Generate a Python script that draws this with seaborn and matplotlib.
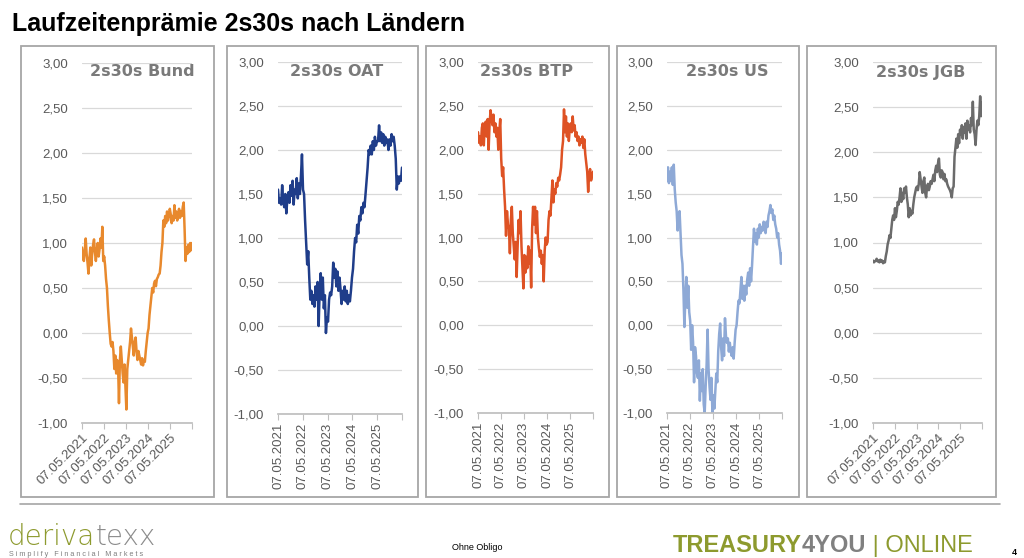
import matplotlib
matplotlib.use("Agg")
import matplotlib.pyplot as plt
from matplotlib.patches import Rectangle
from matplotlib.lines import Line2D
import seaborn as sns
import pandas as pd

sns.set_theme(style="white")
plt.rcParams['font.family'] = ['Liberation Sans', 'DejaVu Sans']

W, H = 1024, 558

# semi-monthly observations, 07.05.2021 - 07.05.2026
dates = pd.date_range("2021-05-07", "2026-05-07", periods=120)
tick_dates = pd.to_datetime(["2021-05-07", "2022-05-07", "2023-05-07", "2024-05-07", "2025-05-07", "2026-05-07"])
tick_labels = ["07.05.2021", "07.05.2022", "07.05.2023", "07.05.2024", "07.05.2025", ""]
y_ticks = [-1.0, -0.5, 0.0, 0.5, 1.0, 1.5, 2.0, 2.5, 3.0]

bund = [0.95, 0.85, 0.80, 0.92, 1.05, 0.88, 0.78, 0.66, 0.82, 0.95, 0.75, 0.88,
        0.98, 1.04, 0.90, 0.80, 0.92, 1.00, 0.85, 0.93, 1.05, 0.95, 1.18, 0.80,
        0.85, 0.75, 0.60, 0.50, 0.30, 0.14, 0.00, -0.12, -0.15, -0.10, -0.20, -0.40,
        -0.25, -0.45, -0.30, -0.35, -0.78, -0.30, -0.15, -0.30, -0.45, -0.55, -0.35, -0.60,
        -0.85, -0.40, -0.30, -0.20, -0.10, 0.05, -0.05, -0.15, -0.25, -0.10, -0.05, -0.20,
        -0.30, -0.20, -0.25, -0.30, -0.35, -0.28, -0.36, -0.30, -0.32, -0.20, -0.10, 0.00,
        0.05, 0.20, 0.30, 0.40, 0.50, 0.45, 0.55, 0.58, 0.52, 0.60, 0.62, 0.65,
        0.66, 0.75, 0.90, 1.00, 1.25, 1.18, 1.30, 1.22, 1.35, 1.25, 1.30, 1.38,
        1.32, 1.22, 1.30, 1.25, 1.42, 1.28, 1.35, 1.25, 1.32, 1.38, 1.28, 1.35,
        1.30, 1.40, 1.45, 1.15, 0.80, 0.95, 0.88, 0.98, 0.90, 1.00, 0.92, 1.00]

oat = [1.55, 1.40, 1.45, 1.38, 1.60, 1.42, 1.35, 1.50, 1.28, 1.45, 1.52, 1.40,
       1.60, 1.48, 1.65, 1.38, 1.55, 1.50, 1.68, 1.45, 1.62, 1.50, 1.70, 1.95,
       1.55, 1.50, 1.20, 0.95, 0.70, 0.85, 0.55, 0.30, 0.40, 0.25, 0.35, 0.22,
       0.45, 0.30, 0.50, 0.00, 0.40, 0.60, 0.30, 0.55, 0.20, 0.35, -0.08, 0.10,
       0.05, 0.30, 0.38, 0.35, 0.45, 0.72, 0.55, 0.65, 0.45, 0.62, 0.40, 0.55,
       0.42, 0.25, 0.40, 0.30, 0.45, 0.28, 0.40, 0.25, 0.35, 0.28, 0.40, 0.55,
       0.65, 0.85, 1.00, 0.95, 1.15, 1.05, 1.25, 1.20, 1.35, 1.28, 1.40, 1.35,
       1.50, 1.65, 1.80, 2.00, 1.95, 2.05, 1.95, 2.10, 2.00, 2.15, 2.05, 2.10,
       2.10, 2.28, 2.10, 2.20, 2.08, 2.18, 2.05, 2.15, 2.08, 2.12, 2.00, 2.12,
       2.05, 2.18, 2.10, 2.15, 2.05, 1.90, 1.55, 1.70, 1.62, 1.70, 1.65, 1.80]

btp = [2.20, 2.08, 2.15, 2.05, 2.25, 2.30, 2.05, 2.28, 2.32, 2.15, 2.35, 2.00,
       2.30, 2.45, 2.35, 2.28, 2.40, 2.20, 2.30, 2.15, 2.25, 2.00, 2.20, 2.35,
       1.90, 1.70, 1.80, 1.55, 1.35, 1.02, 1.30, 1.15, 1.10, 0.82, 1.20, 1.35,
       1.05, 0.90, 0.75, 0.95, 0.55, 0.90, 1.20, 1.05, 1.30, 0.90, 0.65, 0.42,
       0.80, 0.60, 0.78, 0.65, 0.90, 0.70, 0.85, 0.43, 1.10, 1.35, 1.15, 1.35,
       1.05, 1.30, 1.00, 0.88, 0.78, 0.85, 0.70, 0.80, 0.50, 0.85, 1.00, 0.92,
       0.95, 1.20, 1.30, 1.25, 1.45, 1.65, 1.40, 1.55, 1.50, 1.62, 1.58, 1.68,
       1.65, 1.72, 1.80, 2.00, 2.10, 2.46, 2.20, 2.38, 2.15, 2.30, 2.10, 2.25,
       2.30, 2.20, 2.38, 2.22, 2.28, 2.15, 2.20, 2.10, 2.15, 2.05, 2.12, 2.08,
       2.15, 2.02, 2.12, 1.95, 1.85, 1.75, 1.52, 1.72, 1.78, 1.65, 1.70, 1.75]

us = [1.65, 1.80, 1.62, 1.75, 1.65, 1.80, 1.60, 1.83, 1.55, 1.40, 1.30, 1.08,
      1.25, 1.30, 1.05, 0.80, 0.70, 0.40, -0.02, 0.30, 0.55, 0.20, 0.45, 0.15,
      0.05, -0.28, 0.00, -0.20, -0.65, -0.25, -0.35, -0.55, -0.60, -0.40, -0.86, -0.55,
      -0.75, -0.50, -0.90, -1.00, -0.70, -0.45, -0.05, -0.50, -0.70, -0.85, -0.60, -1.00,
      -0.80, -0.95, -0.75, -0.55, -0.65, -0.30, -0.10, 0.02, -0.25, -0.40, -0.15, -0.35,
      0.08, -0.12, -0.20, -0.15, -0.30, -0.20, -0.30, -0.35, -0.25, -0.38, -0.20, -0.05,
      0.00, 0.15, 0.28, 0.25, 0.40, 0.55, 0.30, 0.45, 0.28, 0.45, 0.35, 0.52,
      0.60, 0.45, 0.65, 0.50, 0.68, 0.90, 1.10, 0.95, 1.05, 0.92, 1.10, 1.00,
      1.15, 1.05, 1.12, 1.08, 1.18, 1.10, 1.05, 1.18, 1.12, 1.25, 1.30, 1.37,
      1.28, 1.32, 1.20, 1.25, 1.15, 1.10, 1.00, 1.05, 0.92, 0.85, 0.70, 0.82]

jgb = [0.80, 0.78, 0.79, 0.80, 0.82, 0.79, 0.80, 0.78, 0.81, 0.79, 0.80, 0.77,
       0.79, 0.78, 0.85, 0.90, 0.98, 1.02, 1.08, 1.05, 1.15, 1.25, 1.30, 1.25,
       1.38, 1.28, 1.35, 1.45, 1.42, 1.50, 1.60, 1.45, 1.55, 1.48, 1.60, 1.55,
       1.62, 1.50, 1.42, 1.28, 1.38, 1.30, 1.35, 1.32, 1.42, 1.50, 1.55, 1.60,
       1.62, 1.58, 1.65, 1.78, 1.70, 1.62, 1.55, 1.68, 1.72, 1.55, 1.50, 1.62,
       1.65, 1.58, 1.62, 1.68, 1.65, 1.70, 1.75, 1.68, 1.80, 1.85, 1.78, 1.88,
       1.93, 1.75, 1.72, 1.80, 1.78, 1.70, 1.76, 1.68, 1.70, 1.65, 1.62, 1.60,
       1.58, 1.55, 1.50, 1.60, 1.62, 1.95, 2.05, 2.15, 2.05, 2.20, 2.10, 2.25,
       2.20, 2.30, 2.15, 2.28, 2.22, 2.32, 2.15, 2.35, 2.25, 2.30, 2.22, 2.38,
       2.30, 2.56, 2.25, 2.20, 2.08, 2.25, 2.35, 2.30, 2.40, 2.62, 2.40, 2.55]

# title, series, colour, plot area (px l,t,r,b), frame (px l,t,r,b), label rotation, title centre x
panels = [
    ("2s30s Bund", bund, "#E8892D", (82, 63, 192, 423), (21, 46, 214, 497), 45, 142),
    ("2s30s OAT", oat, "#1F3D8A", (278, 62, 402, 414), (227, 46, 418, 497), 90, 337),
    ("2s30s BTP", btp, "#DE5224", (478, 62, 593, 413), (426, 46, 609, 497), 90, 527),
    ("2s30s US", us, "#8EA9D6", (667, 62, 782, 413), (617, 46, 799, 497), 90, 727),
    ("2s30s JGB", jgb, "#6B6B6B", (873, 62, 982, 423), (807, 46, 996, 497), 45, 921),
]

fig = plt.figure(figsize=(W / 100, H / 100), dpi=100)
fig.patch.set_facecolor("white")

fig.text(12 / W, 1 - 31 / H, "Laufzeitenprämie 2s30s nach Ländern", fontsize=18,
         fontweight="bold", color="black", va="baseline", ha="left")

for title, vals, color, (l, t, r, b), (fl, ft, fr, fb), rot, tx in panels:
    fig.add_artist(Rectangle((fl / W, 1 - fb / H), (fr - fl) / W, (fb - ft) / H,
                             transform=fig.transFigure, fill=False, ec="#A6A6A6", lw=1.3))
    ax = fig.add_axes([l / W, 1 - b / H, (r - l) / W, (b - t) / H])
    df = pd.DataFrame({"date": dates, "value": vals})
    sns.lineplot(data=df, x="date", y="value", color=color, lw=1.8, ax=ax)
    ax.set_facecolor("none")
    ax.set_xlim(tick_dates[0], tick_dates[-1])
    ax.set_ylim(-1, 3)
    ax.set_yticks(y_ticks)
    ax.set_yticklabels([f"{v:.2f}".replace(".", ",") for v in y_ticks])
    ax.set_xticks(tick_dates)
    ax.set_xticklabels(tick_labels)
    ax.grid(axis="y", color="#D9D9D9", lw=0.9)
    ax.grid(axis="x", visible=False)
    ax.set_axisbelow(True)
    for s in ["top", "right", "left"]:
        ax.spines[s].set_visible(False)
    ax.spines["bottom"].set_color("#BFBFBF")
    ax.tick_params(axis="x", length=4, width=0.8, color="#BFBFBF", labelsize=9.5,
                   labelcolor="#595959", pad=2, bottom=True)
    ax.tick_params(axis="y", length=0, labelsize=9.5, labelcolor="#595959", pad=10)
    for lbl in ax.get_xticklabels():
        lbl.set_rotation(rot)
        lbl.set_ha("right" if rot == 45 else "center")
        lbl.set_rotation_mode("anchor" if rot == 45 else "default")
    ax.set_xlabel("")
    ax.set_ylabel("")
    fig.text(tx / W, 1 - 72 / H, title, ha="center", va="center", fontsize=11.5,
             fontweight="bold", color="#7A7A7A", family="DejaVu Sans")

# footer
fig.add_artist(Line2D([20 / W, 1000 / W], [1 - 504 / H, 1 - 504 / H],
                      transform=fig.transFigure, color="#A6A6A6", lw=1.2))
olive = "#8D9A2E"
fig.canvas.draw()
rend = fig.canvas.get_renderer()

t1 = fig.text(8 / W, 1 - 545 / H, "deriva", fontsize=20, color=olive, va="baseline",
              fontweight="light", family="DejaVu Sans")
x1 = t1.get_window_extent(rend).x1
fig.text(x1 / W, 1 - 545 / H, "texx", fontsize=20, color="#8C8C8C", va="baseline",
         fontweight="light", family="DejaVu Sans")
fig.text(9 / W, 1 - 556 / H, "S i m p l i f y   F i n a n c i a l   M a r k e t s", fontsize=5.2,
         color="#7F7F7F", va="baseline")
fig.text(477 / W, 1 - 550 / H, "Ohne Obligo", fontsize=6.5, color="black", ha="center", va="baseline")

t2 = fig.text(673 / W, 1 - 552 / H, "TREASURY", fontsize=17, color=olive, fontweight="bold", va="baseline")
x2 = t2.get_window_extent(rend).x1
t3 = fig.text(x2 / W, 1 - 552 / H, "4YOU", fontsize=17, color="#808080", fontweight="bold", va="baseline")
x3 = t3.get_window_extent(rend).x1
fig.text(x3 / W, 1 - 552 / H, " | ONLINE", fontsize=17, color=olive, va="baseline")
fig.text(1012 / W, 1 - 555 / H, "4", fontsize=6.5, color="black", fontweight="bold", va="baseline")

fig.savefig("out.png", dpi=100, facecolor="white")
